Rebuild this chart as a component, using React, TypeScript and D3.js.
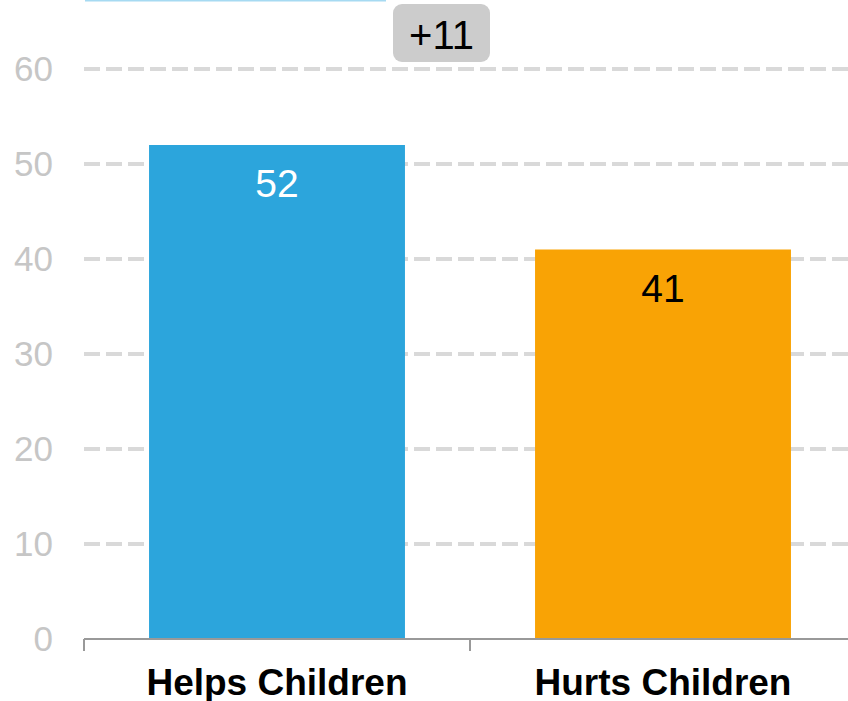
import * as d3 from "d3";

const categories = ["Helps Children", "Hurts Children"];
const values = [52, 41];
const barColors = ["#2ca5dc", "#f9a305"];
const labelColors = ["#ffffff", "#000000"];
const yTicks = [0, 10, 20, 30, 40, 50, 60];
const diffLabel = "+11";

const W = 848;
const H = 701;
const FONT = "'Liberation Sans', Arial, sans-serif";

export default function App() {
  const margin = { left: 84, right: -8, top: 69, bottom: 62 };
  const baseline = H - margin.bottom; // 639

  const x = d3
    .scaleBand<string>()
    .domain(categories)
    .range([margin.left, W - margin.right]);

  const xBar = d3
    .scaleBand<string>()
    .domain(categories)
    .range([margin.left, W - margin.right])
    .paddingInner(0.337)
    .paddingOuter(0.1685);

  const y = d3.scaleLinear().domain([0, 60]).range([baseline, margin.top]);

  const tickX = [margin.left, ...categories.slice(1).map((c) => x(c) ?? 0)];

  // difference badge
  const badgeW = 97;
  const badgeH = 58;
  const badgeCx = 441.5;

  return (
    <svg
      width={W}
      height={H}
      style={{ position: "fixed", left: 0, top: 0, background: "#fff" }}
      fontFamily={FONT}
    >
      {/* clipped legend line at the top */}
      <line x1={85} x2={386} y1={0.5} y2={0.5} stroke="#a6daf2" strokeWidth={2} />

      {/* gridlines */}
      {yTicks
        .filter((t) => t > 0)
        .map((t) => (
          <line
            key={`g${t}`}
            x1={margin.left}
            x2={W}
            y1={y(t)}
            y2={y(t)}
            stroke="#d9d9d9"
            strokeWidth={4}
            strokeDasharray="16,6"
          />
        ))}

      {/* y tick labels */}
      {yTicks.map((t) => (
        <text
          key={`t${t}`}
          x={53}
          y={y(t) + 12}
          textAnchor="end"
          fontSize={35}
          fill="#c6c6c6"
        >
          {t}
        </text>
      ))}

      {/* bars */}
      {categories.map((c, i) => (
        <rect
          key={c}
          x={xBar(c)}
          y={y(values[i])}
          width={xBar.bandwidth()}
          height={baseline - y(values[i])}
          fill={barColors[i]}
        />
      ))}

      {/* value labels */}
      {categories.map((c, i) => (
        <text
          key={`v${c}`}
          x={(xBar(c) ?? 0) + xBar.bandwidth() / 2}
          y={y(values[i]) + 52}
          textAnchor="middle"
          fontSize={39}
          fill={labelColors[i]}
        >
          {values[i]}
        </text>
      ))}

      {/* x axis */}
      <line x1={margin.left} x2={W} y1={baseline} y2={baseline} stroke="#999" strokeWidth={2} />
      {tickX.map((tx, i) => (
        <line key={`xt${i}`} x1={tx} x2={tx} y1={baseline} y2={baseline + 12} stroke="#999" strokeWidth={2} />
      ))}

      {/* category labels */}
      {categories.map((c) => (
        <text
          key={`c${c}`}
          x={(x(c) ?? 0) + x.bandwidth() / 2}
          y={695}
          textAnchor="middle"
          fontSize={37}
          fontWeight="bold"
          fill="#000"
        >
          {c}
        </text>
      ))}

      {/* difference badge */}
      <rect
        x={badgeCx - badgeW / 2}
        y={4}
        width={badgeW}
        height={badgeH}
        rx={9}
        fill="#cccccc"
      />
      <text x={badgeCx} y={49} textAnchor="middle" fontSize={40} fill="#000">
        {diffLabel}
      </text>
    </svg>
  );
}
